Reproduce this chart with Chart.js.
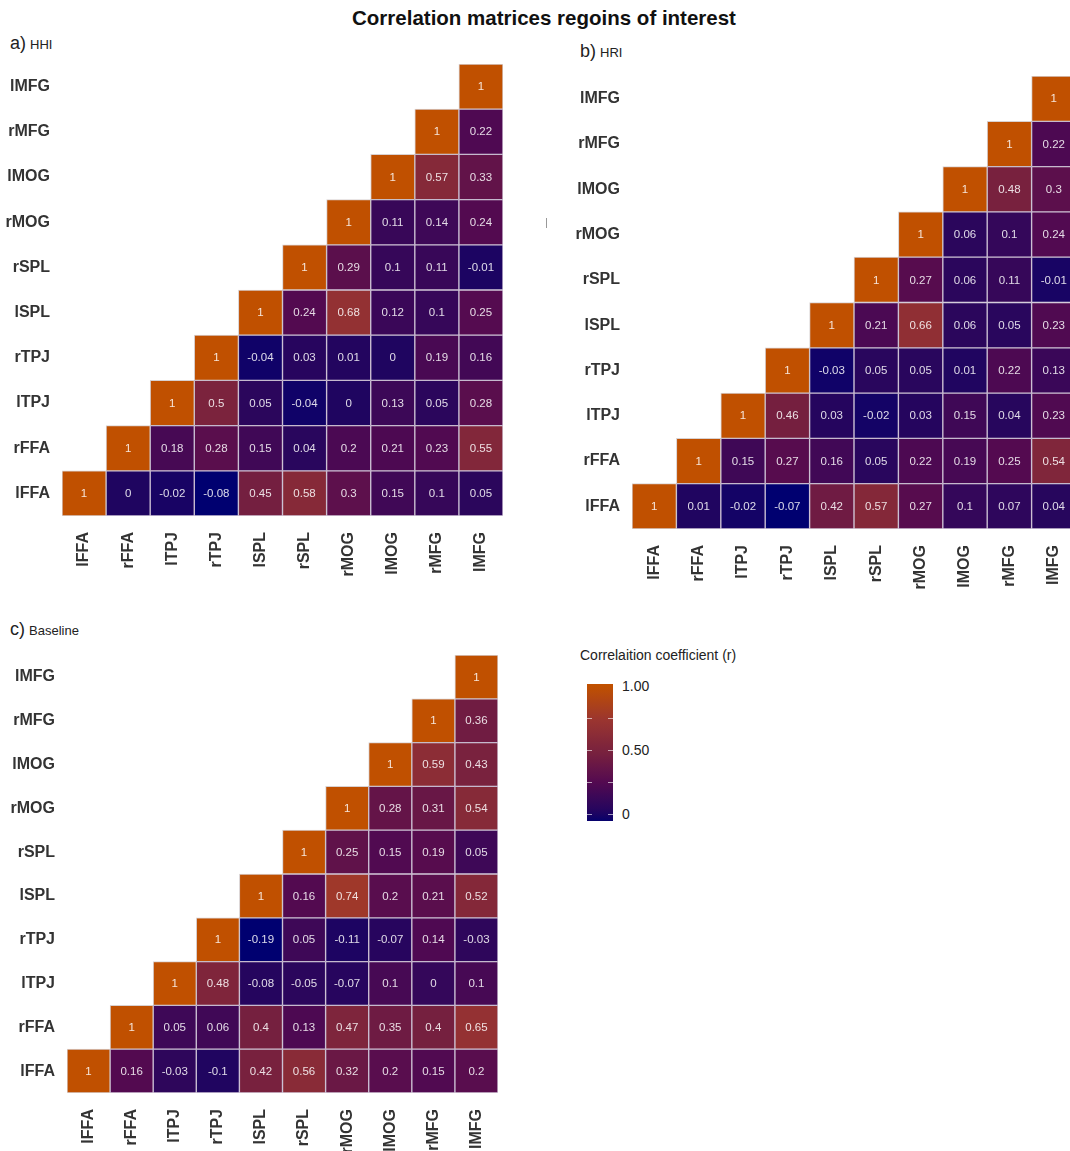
<!DOCTYPE html>
<html>
<head>
<meta charset="utf-8">
<script src="https://cdn.jsdelivr.net/npm/chart.js@4.4.1/dist/chart.umd.min.js"></script>
<style>
  body { margin:0; width:1070px; height:1151px; overflow:hidden; background:#fff; position:relative;
         font-family:"Liberation Sans", Arial, sans-serif; color:#222; }
  .abs { position:absolute; }
  canvas { position:absolute; }
  .title { left:0; width:1088px; top:6px; text-align:center; font-size:20.5px; font-weight:bold; color:#111; }
  .tag { font-size:18px; color:#222; }
  .tag span { font-size:13px; margin-left:4px; }
  .legend-title { left:580px; top:647px; font-size:14px; color:#222; }
  .legend-bar { left:587px; top:684px; width:26px; height:137px; }
  .legend-lab { left:622px; font-size:14px; color:#222; }
  .legend-tick { width:5px; height:1px; background:rgba(255,255,255,0.6); }
</style>
</head>
<body>
<div class="abs title">Correlation matrices regoins of interest</div>
<div class="abs tag" style="left:10px;top:33px">a)<span>HHI</span></div>
<div class="abs tag" style="left:580px;top:41px">b)<span>HRI</span></div>
<div class="abs tag" style="left:10px;top:619px">c)<span>Baseline</span></div>
<div class="abs" style="left:546px;top:218px;width:1px;height:10px;background:#999"></div>

<canvas id="hhi"></canvas>
<canvas id="hri"></canvas>
<canvas id="base"></canvas>

<div class="abs legend-title">Correlaition coefficient (r)</div>
<div class="abs legend-bar" id="legendBar"></div>
<div id="legendLabels"></div>

<script>
// region order, bottom row / left column first
const regions = ['lFFA','rFFA','lTPJ','rTPJ','lSPL','rSPL','rMOG','lMOG','rMFG','lMFG'];

// each row r holds the values for columns r..9
const hhiRows = [
  [1, 0, -0.02, -0.08, 0.45, 0.58, 0.3, 0.15, 0.1, 0.05],
  [1, 0.18, 0.28, 0.15, 0.04, 0.2, 0.21, 0.23, 0.55],
  [1, 0.5, 0.05, -0.04, 0, 0.13, 0.05, 0.28],
  [1, -0.04, 0.03, 0.01, 0, 0.19, 0.16],
  [1, 0.24, 0.68, 0.12, 0.1, 0.25],
  [1, 0.29, 0.1, 0.11, -0.01],
  [1, 0.11, 0.14, 0.24],
  [1, 0.57, 0.33],
  [1, 0.22],
  [1]
];
const hriRows = [
  [1, 0.01, -0.02, -0.07, 0.42, 0.57, 0.27, 0.1, 0.07, 0.04],
  [1, 0.15, 0.27, 0.16, 0.05, 0.22, 0.19, 0.25, 0.54],
  [1, 0.46, 0.03, -0.02, 0.03, 0.15, 0.04, 0.23],
  [1, -0.03, 0.05, 0.05, 0.01, 0.22, 0.13],
  [1, 0.21, 0.66, 0.06, 0.05, 0.23],
  [1, 0.27, 0.06, 0.11, -0.01],
  [1, 0.06, 0.1, 0.24],
  [1, 0.48, 0.3],
  [1, 0.22],
  [1]
];
const baselineRows = [
  [1, 0.16, -0.03, -0.1, 0.42, 0.56, 0.32, 0.2, 0.15, 0.2],
  [1, 0.05, 0.06, 0.4, 0.13, 0.47, 0.35, 0.4, 0.65],
  [1, 0.48, -0.08, -0.05, -0.07, 0.1, 0, 0.1],
  [1, -0.19, 0.05, -0.11, -0.07, 0.14, -0.03],
  [1, 0.16, 0.74, 0.2, 0.21, 0.52],
  [1, 0.25, 0.15, 0.19, 0.05],
  [1, 0.28, 0.31, 0.54],
  [1, 0.59, 0.43],
  [1, 0.36],
  [1]
];

const legendValues = [1, 0.5, 0];
const legendLabels = ['1.00', '0.50', '0'];
const legendMin = -0.07;

// navy -> purple -> dark orange
const colorStops = [
  [0, '#000070'], [0.08, '#22055f'], [0.3, '#540a50'],
  [0.5, '#76203f'], [0.75, '#9a3530'], [1, '#c05000']
];

function hex(c) { return [1,3,5].map(i => parseInt(c.substr(i,2),16)); }
function cellColor(v, vmin) {
  let t = (v - vmin) / (1 - vmin);
  t = Math.max(0, Math.min(1, t));
  for (let i = 1; i < colorStops.length; i++) {
    const [t1, c1] = colorStops[i];
    if (t <= t1) {
      const [t0, c0] = colorStops[i-1];
      const f = (t - t0) / (t1 - t0);
      const a = hex(c0), b = hex(c1);
      return 'rgb(' + a.map((x, k) => Math.round(x + (b[k]-x)*f)).join(',') + ')';
    }
  }
  return colorStops[colorStops.length-1][1];
}

const FONT = '"Liberation Sans", Arial, sans-serif';

const cellText = {
  id: 'cellText',
  afterDatasetsDraw(chart) {
    const ctx = chart.ctx;
    ctx.save();
    ctx.font = '11.5px ' + FONT;
    ctx.textAlign = 'center';
    ctx.textBaseline = 'middle';
    ctx.fillStyle = 'rgba(255,255,255,0.85)';
    chart.data.datasets.forEach((ds, i) => {
      chart.getDatasetMeta(i).data.forEach((bar, j) => {
        const v = ds.values[j];
        if (v === null) return;
        ctx.fillText(String(v), bar.x, (bar.y + bar.base) / 2 + 0.5);
      });
    });
    ctx.restore();
  }
};

function drawPanel(id, rows, g) {
  const canvas = document.getElementById(id);
  const w = g.yAxisW + g.areaW + g.padRight;
  const h = g.padTop + g.areaH + g.xAxisH;
  canvas.width = w; canvas.height = h;
  canvas.style.left = g.left + 'px';
  canvas.style.top = g.top + 'px';
  canvas.style.width = w + 'px';
  canvas.style.height = h + 'px';

  const vmin = Math.min(...rows.flat());
  const datasets = rows.map((vals, r) => ({
    data: regions.map((_, c) => c >= r ? [r, r + 1] : null),
    values: regions.map((_, c) => c >= r ? vals[c - r] : null),
    backgroundColor: regions.map((_, c) => c >= r ? cellColor(vals[c - r], vmin) : 'transparent'),
    borderColor: regions.map((_, c) => c === r ? 'rgba(200,190,190,0.7)' : 'rgba(120,90,140,0.3)'),
    borderWidth: 1,
    borderSkipped: false,
    barPercentage: 1,
    categoryPercentage: 1,
    grouped: false
  }));

  new Chart(canvas, {
    type: 'bar',
    data: { labels: regions, datasets },
    options: {
      responsive: false,
      animation: false,
      events: [],
      layout: { padding: { top: g.padTop, right: g.padRight, left: 0, bottom: 0 } },
      plugins: { legend: { display: false }, tooltip: { enabled: false } },
      scales: {
        x: {
          grid: { display: false }, border: { display: false },
          ticks: { minRotation: 90, maxRotation: 90, padding: g.xPad, color: '#333',
                   font: { family: FONT, size: 16, weight: 'bold' } },
          afterFit: s => { s.height = g.xAxisH; s.paddingLeft = 0; s.paddingRight = 0; }
        },
        y: {
          type: 'linear', min: 0, max: 10,
          grid: { display: false }, border: { display: false },
          afterBuildTicks: s => { s.ticks = regions.map((_, i) => ({ value: i + 0.5 })); },
          ticks: { callback: v => regions[Math.floor(v)], padding: g.yPad, color: '#333',
                   font: { family: FONT, size: 16, weight: 'bold' } },
          afterFit: s => { s.width = g.yAxisW; s.paddingTop = 0; s.paddingBottom = 0; }
        }
      }
    },
    plugins: [cellText]
  });
}

drawPanel('hhi', hhiRows, { left: 0, top: 60, yAxisW: 62, areaW: 441, padRight: 5, padTop: 4, areaH: 452, xAxisH: 84, xPad: 8, yPad: 4 });
drawPanel('hri', hriRows, { left: 560, top: 72, yAxisW: 72, areaW: 444, padRight: 4, padTop: 4, areaH: 453, xAxisH: 75, xPad: 8, yPad: 4 });
drawPanel('base', baselineRows, { left: 0, top: 650, yAxisW: 67, areaW: 431, padRight: 5, padTop: 5, areaH: 438, xAxisH: 58, xPad: 8, yPad: 4 });

// legend colour bar
(function () {
  const bar = document.getElementById('legendBar');
  const top = 684, height = 137, px1 = 686, px0 = 814;
  const stops = [];
  for (let i = 0; i <= 20; i++) {
    const v = 1 - i * (1 - legendMin) / 20;
    const y = (px1 - top) + (1 - v) * (px0 - px1);
    stops.push(cellColor(v, legendMin) + ' ' + (y / height * 100).toFixed(1) + '%');
  }
  bar.style.background = 'linear-gradient(to bottom,' + stops.join(',') + ')';
  const holder = document.getElementById('legendLabels');
  legendValues.forEach((v, i) => {
    const y = px1 + (1 - v) * (px0 - px1);
    const lab = document.createElement('div');
    lab.className = 'abs legend-lab';
    lab.style.top = (y - 8) + 'px';
    lab.textContent = legendLabels[i];
    holder.appendChild(lab);
  });
  [0, 0.25, 0.5, 0.75].forEach(v => {
    const y = px1 + (1 - v) * (px0 - px1);
    [587, 608].forEach(x => {
      const t = document.createElement('div');
      t.className = 'abs legend-tick';
      t.style.left = x + 'px';
      t.style.top = Math.round(y) + 'px';
      holder.appendChild(t);
    });
  });
})();
</script>
</body>
</html>
